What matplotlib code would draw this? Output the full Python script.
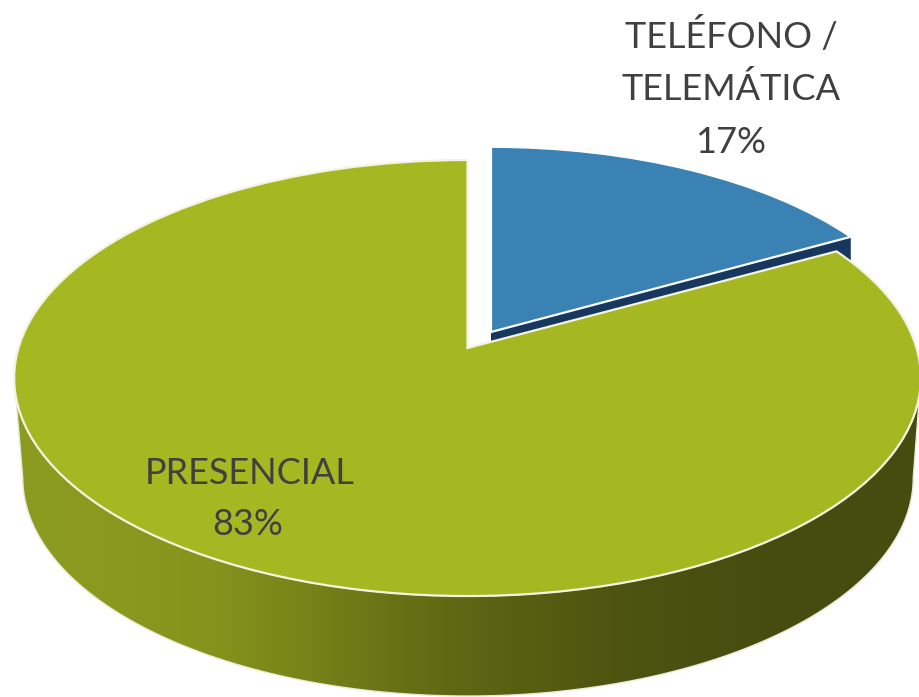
import numpy as np
import matplotlib
matplotlib.use("Agg")
import matplotlib.pyplot as plt
from matplotlib.transforms import Transform
from matplotlib.patches import Polygon

categories = ["PRESENCIAL", "TELÉFONO /\nTELEMÁTICA"]
shares = [83, 17]
colors = ["#A6B821", "#3A82B4"]

TEXT = "#404040"
W, H = 919, 697


class Perspective(Transform):
    """Tilted pie plane: unit circle -> pixel-like data coordinates."""
    input_dims = output_dims = 2
    is_affine = False
    has_inverse = False

    def __init__(self, ax_x, ax_y, p=0.1376, a=449.0, b=213.9, sx=1.0, sy=1.0):
        super().__init__()
        self.x0, self.y0, self.p = ax_x, ax_y, p
        self.a, self.b = a * sx, b * sy

    def transform_non_affine(self, values):
        v = np.asarray(values, float)
        d = 1 + self.p * v[:, 1]
        return np.column_stack([self.x0 + self.a * v[:, 0] / d,
                                self.y0 - self.b * v[:, 1] / d])


def unit(deg):
    r = np.deg2rad(deg)
    return np.column_stack([np.cos(r), np.sin(r)])


fig = plt.figure(figsize=(W / 100, H / 100), dpi=100, facecolor="white")
ax = fig.add_axes([0, 0, 1, 1])

wedges, _ = ax.pie(shares, colors=colors, startangle=90, radius=1,
                   wedgeprops=dict(edgecolor="white", linewidth=1.6))
ax.set_aspect("auto")
ax.set_xlim(0, W)
ax.set_ylim(H, 0)
ax.axis("off")

top = Perspective(467.5, 348)
blue = Perspective(491, 332, sx=0.975, sy=0.985)
wedges[0].set_transform(top + ax.transData)
wedges[1].set_transform(blue + ax.transData)
wedges[0].set_zorder(4)
wedges[1].set_zorder(3)
wedges[0].set_edgecolor("#F2F4E0")

# Side wall of the large slice
arc = np.linspace(187.9, 352.1, 200)
upper = top.transform_non_affine(unit(arc))
lower = Perspective(468, 448, a=441).transform_non_affine(unit(arc))
wall = np.vstack([upper, lower[::-1]])
stops_x = [20, 100, 220, 300, 400, 467, 560, 640, 760, 915]
stops_c = np.array([[0x8C, 0x9C, 0x1F], [0x8B, 0x9A, 0x1F], [0x85, 0x92, 0x1C],
                    [0x79, 0x84, 0x19], [0x68, 0x70, 0x15], [0x5E, 0x65, 0x13],
                    [0x54, 0x5A, 0x11], [0x4C, 0x52, 0x10], [0x47, 0x4D, 0x0F],
                    [0x46, 0x4C, 0x0F]]) / 255
xs = np.arange(W)
grad = np.stack([np.interp(xs, stops_x, stops_c[:, i]) for i in range(3)], axis=-1)[None, :, :]
im = ax.imshow(grad, extent=[0, W, H, 0], aspect="auto", zorder=1)
clip = Polygon(wall, closed=True, transform=ax.transData, facecolor="none",
               edgecolor="#E9EBD6", linewidth=1.0, zorder=1.5)
ax.add_patch(clip)
im.set_clip_path(clip)
ax.set_xlim(0, W)
ax.set_ylim(H, 0)

# Cut face of the small slice
end = 90 - 360 * shares[1] / sum(shares)
edge = blue.transform_non_affine(np.vstack([[0, 0], unit([end])]))
face = np.vstack([edge, edge[::-1] + [0, 40]])
ax.add_patch(Polygon(face, closed=True, facecolor="#17375E", edgecolor="none", zorder=2))

font = dict(family="Lato", color=TEXT, ha="center", va="baseline", fontsize=26, zorder=6)
ax.text(731, 48, "TELÉFONO /", **font)
ax.text(731, 100, "TELEMÁTICA", **font)
ax.text(731, 153, f"{shares[1]}%", **font)
ax.text(250, 484, categories[0], **font)
ax.text(248, 535, f"{shares[0]}%", **font)

fig.savefig("out.png", dpi=100)
